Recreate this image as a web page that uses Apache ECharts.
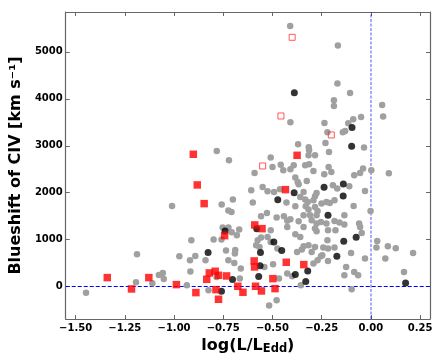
<!DOCTYPE html>
<html>
<head>
<meta charset="utf-8">
<script src="https://cdn.jsdelivr.net/npm/echarts@6/dist/echarts.min.js"></script>
<style>
html,body{margin:0;padding:0;background:#fff;}
#chart{width:442px;height:362px;}
</style>
</head>
<body>
<div id="chart"></div>
<script>
// Tick labels
var xTicks = [-1.5, -1.25, -1.0, -0.75, -0.5, -0.25, 0.0, 0.25];
var yTicks = [0, 1000, 2000, 3000, 4000, 5000];

// Gray circles: [log(L/LEdd), blueshift]
var grayPoints = [
[-1.447,-130],[-1.188,689],[-1.193,92],[-1.110,71],[-1.077,248],[-1.057,290],[-1.052,163],
[-1.010,1718],[-0.973,646],[-0.935,28],[-0.912,987],[-0.919,561],[-0.892,653],[-0.917,320],
[-0.840,561],[-0.825,-78],[-0.799,1002],[-0.783,2890],[-0.758,1748],[-0.721,2692],[-0.724,1620],
[-0.708,1590],[-0.701,1855],[-0.753,1258],[-0.724,1258],[-0.669,1215],[-0.759,1002],[-0.681,1094],
[-0.736,768],[-0.689,781],[-0.691,704],[-0.694,504],[-0.661,384],[-0.666,171],[-0.724,561],[-0.784,205],
[-0.509,2750],[-0.458,2596],[-0.370,3033],[-0.316,2969],[-0.409,3502],[-0.410,5554],
[-0.591,2421],[-0.500,2549],[-0.445,2479],[-0.409,2500],[-0.392,2586],[-0.334,2586],[-0.384,2323],
[-0.372,2230],[-0.367,2181],[-0.550,2123],[-0.525,2032],[-0.608,2053],[-0.492,2017],[-0.462,2074],
[-0.600,1791],[-0.429,1791],[-0.384,1712],[-0.359,1910],[-0.334,1855],[-0.528,1569],[-0.558,1499],
[-0.479,1471],[-0.442,1499],[-0.409,1435],[-0.425,1403],[-0.367,1392],[-0.425,1271],[-0.342,1271],
[-0.509,1200],[-0.707,1158],[-0.575,987],[-0.558,1045],[-0.525,1058],[-0.509,951],[-0.475,810],
[-0.359,1058],[-0.384,1115],[-0.375,738],[-0.351,789],[-0.583,881],[-0.566,845],[-0.541,418],
[-0.497,476],[-0.425,278],[-0.400,220],[-0.467,171],[-0.517,-400],[-0.479,-290],[-0.356,28],
[-0.168,5136],[-0.170,4327],[-0.106,4126],[-0.188,3971],[-0.188,3849],[0.057,3871],[0.062,3623],
[-0.236,3487],[-0.115,3481],[-0.090,3566],[-0.050,3615],[-0.221,3289],[-0.143,3289],[-0.131,3317],
[-0.231,3061],[-0.035,2963],[-0.213,2869],[-0.314,2905],[-0.317,2799],[-0.284,2799],[-0.314,2607],
[-0.292,2464],[-0.215,2549],[-0.201,2443],[-0.237,2394],[-0.326,2251],[-0.040,2515],[-0.055,2421],
[-0.085,2372],[0.002,2479],[0.091,2415],[-0.171,2089],[-0.110,2138],[-0.193,2159],[-0.030,2038],
[-0.276,1995],[-0.284,1925],[-0.292,1840],[-0.342,2017],[-0.185,1840],[-0.321,1803],[-0.331,1712],
[-0.317,1641],[-0.251,1769],[-0.226,1803],[-0.209,1782],[-0.284,1697],[-0.271,1612],[-0.276,1520],
[-0.088,1718],[-0.002,1612],[-0.309,1520],[-0.301,1414],[-0.135,1520],[-0.342,1520],[-0.254,1377],
[-0.226,1343],[-0.185,1399],[-0.160,1364],[-0.135,1322],[-0.276,1343],[-0.284,1237],[-0.060,1343],
[-0.055,1271],[-0.218,1200],[-0.180,1200],[-0.276,1179],[-0.047,1143],[0.032,972],[0.028,832],
[0.073,597],[-0.342,859],[-0.317,881],[-0.284,845],[-0.242,832],[-0.218,810],[-0.185,832],
[-0.221,987],[-0.301,738],[-0.254,646],[-0.271,561],[-0.292,491],[-0.218,546],[-0.247,668],
[-0.101,717],[-0.030,597],[-0.126,418],[-0.135,241],[-0.085,312],[-0.065,241],[-0.098,-57],
[0.126,817],[0.214,717],[0.168,312],[0.086,859]
];

// Black circles
var blackPoints = [
[-0.827,724],[-0.741,1186],[-0.759,-99],[-0.703,149],[-0.580,1235],[-0.561,724],[-0.563,447],
[-0.570,213],[-0.493,951],[-0.453,767],[-0.473,1853],[-0.389,4132],[-0.390,2002],[-0.384,256],
[-0.331,107],[-0.321,334],[-0.238,2116],[-0.218,1519],[-0.173,646],[-0.140,2187],[-0.141,1931],
[-0.138,966],[-0.096,3387],[-0.098,2989],[-0.075,1051],[0.176,78]
];

// Red filled squares
var redPoints = [
[-1.339,192],[-1.216,-50],[-1.128,192],[-0.988,43],[-0.889,-128],[-0.902,2819],[-0.882,2166],
[-0.847,1768],[-0.834,156],[-0.821,291],[-0.791,327],[-0.787,-64],[-0.774,241],[-0.774,-270],
[-0.733,227],[-0.743,1086],[-0.676,7],[-0.650,-121],[-0.590,1314],[-0.553,1235],[-0.593,547],
[-0.591,419],[-0.586,7],[-0.556,-92],[-0.498,170],[-0.487,-43],[-0.430,518],[-0.434,2066],
[-0.375,2797],[-0.341,469]
];

// Red open squares
var openPoints = [
[-0.400,5311],[-0.457,3635],[-0.550,2570],[-0.201,3231]
];

var chart = echarts.init(document.getElementById('chart'), null, {renderer:'canvas'});
var FONT = 'DejaVu Sans';
var frame = {show:true, onZero:false, lineStyle:{color:'#666', width:1.2}};
function xfmt(v){ return (v < 0 ? '\u2212' : '') + Math.abs(v).toFixed(2); }
function yfmt(v){ return String(Math.round(v)); }

var option = {
  animation:false,
  backgroundColor:'#fff',
  grid:{left:60, top:12, right:12, bottom:43, containLabel:false},
  xAxis:[{
    type:'value', min:-1.55, max:0.30, position:'bottom',
    axisLine:frame,
    axisTick:{show:true, inside:true, length:4, lineStyle:{color:'#666'}, customValues:xTicks},
    axisLabel:{show:true, customValues:xTicks, formatter:xfmt, fontFamily:FONT, fontWeight:'bold', fontSize:10, color:'#000', margin:4},
    splitLine:{show:false},
    name:'{a|log(L/L}{b|Edd}{a|)}',
    nameLocation:'middle', nameGap:11,
    nameTextStyle:{rich:{
      a:{fontFamily:FONT, fontWeight:'bold', fontSize:16, color:'#000', lineHeight:19},
      b:{fontFamily:FONT, fontWeight:'bold', fontSize:11.5, color:'#000', lineHeight:19, verticalAlign:'bottom'}
    }}
  },{
    type:'value', min:-1.55, max:0.30, position:'top',
    axisLine:frame,
    axisTick:{show:true, inside:true, length:4, lineStyle:{color:'#666'}, customValues:xTicks},
    axisLabel:{show:false}, splitLine:{show:false}
  }],
  yAxis:[{
    type:'value', min:-690, max:5850, position:'left',
    axisLine:frame,
    axisTick:{show:true, inside:true, length:4, lineStyle:{color:'#666'}, customValues:yTicks},
    axisLabel:{show:true, customValues:yTicks, formatter:yfmt, fontFamily:FONT, fontWeight:'bold', fontSize:10, color:'#000', margin:3},
    splitLine:{show:false},
    name:'Blueshift of CIV [km s\u207B\u00B9]',
    nameLocation:'middle', nameGap:33, nameRotate:90,
    nameTextStyle:{fontFamily:FONT, fontWeight:'bold', fontSize:16, color:'#000'}
  },{
    type:'value', min:-690, max:5850, position:'right',
    axisLine:frame,
    axisTick:{show:true, inside:true, length:4, lineStyle:{color:'#666'}, customValues:yTicks},
    axisLabel:{show:false}, splitLine:{show:false}
  }],
  series:[{
    type:'scatter', data:[], z:1, silent:true,
    markLine:{
      silent:true, symbol:'none', animation:false, z:1,
      label:{show:false},
      data:[
        {yAxis:0, lineStyle:{color:'#0000ff', width:1, type:[4,2]}},
        {xAxis:0, lineStyle:{color:'rgba(0,0,255,0.45)', width:1.5, type:[3,1.5]}}
      ]
    }
  },{
    name:'gray', type:'scatter', data:grayPoints, symbol:'circle', symbolSize:6.5, z:2,
    itemStyle:{color:'#a0a0a0', opacity:1}
  },{
    name:'black', type:'scatter', data:blackPoints, symbol:'circle', symbolSize:7, z:3,
    itemStyle:{color:'#000'}
  },{
    name:'red', type:'scatter', data:redPoints, symbol:'rect', symbolSize:7.5, z:4,
    itemStyle:{color:'#ff0000'}
  },{
    name:'open', type:'scatter', data:openPoints, symbol:'rect', symbolSize:6, z:5,
    itemStyle:{color:'rgba(0,0,0,0)', borderColor:'#ff3030', borderWidth:1}
  }]
};
chart.setOption(option);
</script>
</body>
</html>
